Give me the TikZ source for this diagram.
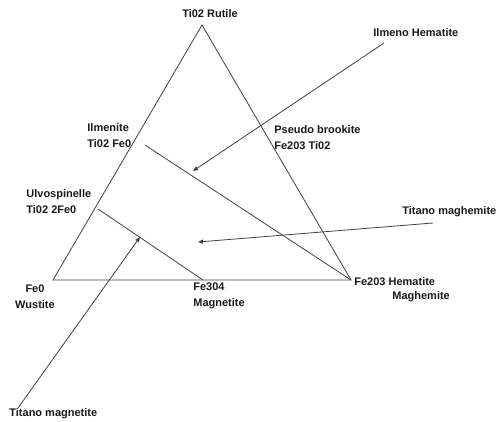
\documentclass[tikz,border=0pt]{standalone}
\usepackage{fontspec}
\setmainfont{Liberation Sans}
\usetikzlibrary{arrows.meta}

\begin{document}
\begin{tikzpicture}[x=1pt, y=-1pt, line width=0.8pt, draw={black!75},
    >={Triangle[length=5pt, width=4pt]},
    mineral/.style = {inner sep=0pt, font=\bfseries\fontsize{11}{16}\selectfont, text=black!90}]

      \useasboundingbox (0,0) rectangle (497,422);

      % corners of the triangle
      \coordinate (TIO2) at (202,25);
      \coordinate (FEO) at (53,280);
      \coordinate (FE2O3) at (351,280);

      \coordinate (ILM) at (145,145);
      \coordinate (ULV) at (98,209);
      \coordinate (MAG) at (203,280);

      \draw (FEO) -- (TIO2) -- (FE2O3) -- cycle;
      \draw (ILM) to (FE2O3);
      \draw (ULV) to (MAG);

      % labels
      \node[mineral] (RUT) at (210,14) {Ti02 Rutile};
      \node[mineral, anchor=west] (ILMHEM) at (373,33) {Ilmeno Hematite};
      \node[mineral, anchor=west, align=left] (ILMENITE) at (87,136) {Ilmenite\\Ti02 Fe0};
      \node[mineral, anchor=west, align=left] (PSEUDO) at (274,138) {Pseudo brookite\\Fe203 Ti02};
      \node[mineral, anchor=west, align=left] (ULVO) at (26,202) {Ulvospinelle\\Ti02 2Fe0};
      \node[mineral, anchor=west] (TITMAGH) at (402,212) {Titano maghemite};
      \node[mineral, align=center] (WUST) at (35,297) {Fe0\\Wustite};
      \node[mineral, anchor=west, align=left] (MAGN) at (193,296) {Fe304\\Magnetite};
      \node[mineral, anchor=west] (HEM) at (354,282) {Fe203 Hematite};
      \node[mineral, anchor=west] (MAGH) at (392,297) {Maghemite};
      \node[mineral, anchor=west] (TITMAGN) at (9,414) {Titano magnetite};

      % pointers
      \coordinate (IH_from) at (384,43);
      \coordinate (IH_to) at (193,171);
      \coordinate (TMH_from) at (433,223);
      \coordinate (TMH_to) at (198,242);
      \coordinate (TMN_from) at (18,408);
      \coordinate (TMN_to) at (140,237);

      \draw[->] (IH_from) to (IH_to);
      \draw[->] (TMH_from) to (TMH_to);
      \draw[->] (TMN_from) to (TMN_to);

      \end{tikzpicture}
\end{document}
